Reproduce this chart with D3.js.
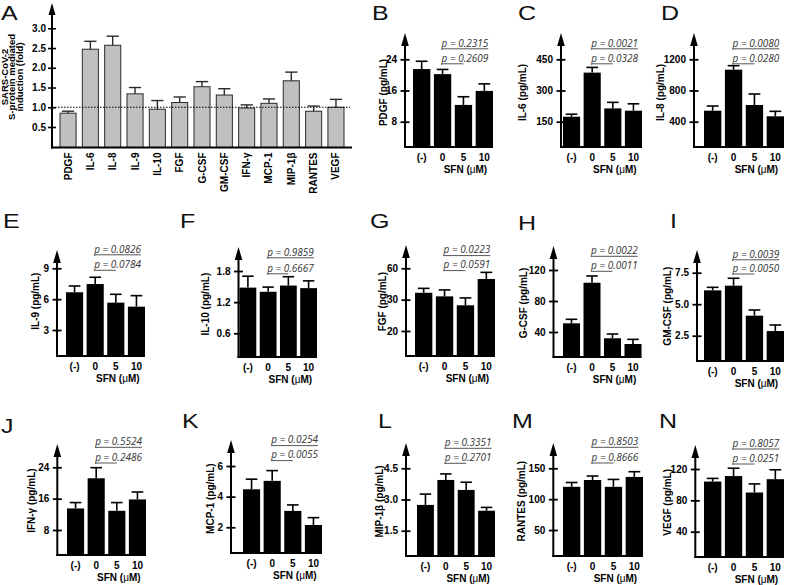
<!DOCTYPE html>
<html><head><meta charset="utf-8">
<script src="https://cdn.jsdelivr.net/npm/d3@7"></script>
<style>
body{margin:0;background:#fff;}
svg{display:block;}
</style></head><body>
<svg id="chart" width="787" height="585"></svg>
<script>
// ---------- Panel A data ----------
const foldCategories = ["PDGF","IL-6","IL-8","IL-9","IL-10","FGF","G-CSF","GM-CSF","IFN-γ","MCP-1","MIP-1β","RANTES","VEGF"];
const foldMeans = [0.85,2.47,2.57,1.34,0.95,1.12,1.52,1.31,0.98,1.10,1.67,0.90,1.00];
const foldUpper = [0.90,2.67,2.80,1.50,1.17,1.26,1.65,1.47,1.06,1.21,1.89,1.03,1.20];
const foldTicks = [0.5,1.0,1.5,2.0,2.5,3.0];
const foldReference = 1.0;
const foldAxisTitle = ["SARS-CoV-2","S-protein mediated","induction (fold)"];

// ---------- Panels B–N data ----------
const sfnGroups = ["(-)","0","5","10"];
const sfnTitle = "SFN";
const panelIds = ["B","C","D","E","F","G","H","I","J","K","L","M","N"];
const panelAnalytes = ["PDGF","IL-6","IL-8","IL-9","IL-10","FGF","G-CSF","GM-CSF","IFN-γ","MCP-1","MIP-1β","RANTES","VEGF"];
const panelTicks = [[8,16,24],[150,300,450],[400,800,1200],[3,6,9],[0.6,1.2,1.8],[20,40,60],[40,80,120],[2.5,5.0,7.5],[8,16,24],[2,4,6],[1.5,3.0,4.5],[50,100,150],[40,80,120]];
const panelTickLabels = [["8","16","24"],["150","300","450"],["400","800","1200"],["3","6","9"],["0.6","1.2","1.8"],["20","30","60"],["40","80","120"],["2.5","5.0","7.5"],["8","16","24"],["2","4","6"],["1.5","3.0","4.5"],["50","100","150"],["40","80","120"]];
const panelMeans = [
  [21.5,20.2,12.3,15.9],
  [174,386,214,203],
  [541,1067,614,469],
  [6.67,7.47,5.66,5.27],
  [1.48,1.40,1.52,1.47],
  [44.4,42.1,36.4,53.2],
  [51.2,103.6,31.9,24.5],
  [6.10,6.47,4.09,2.87],
  [13.5,21.2,12.9,15.8],
  [4.48,5.03,3.07,2.15],
  [2.74,3.94,3.46,2.46],
  [120,131,120,136],
  [104,111,90,107]
];
const panelUpper = [
  [23.5,21.4,14.4,17.7],
  [186,411,243,236],
  [601,1118,755,533],
  [7.28,8.13,6.47,6.34],
  [1.70,1.49,1.69,1.61],
  [47.2,46.2,41.1,57.4],
  [56.4,112.3,37.4,30.5],
  [6.34,7.06,4.54,3.35],
  [15.0,23.9,15.0,17.7],
  [5.14,5.70,3.46,2.63],
  [3.26,4.23,3.83,2.62],
  [127,137.5,132,144.5],
  [108,121,101,119]
];
const panelPTop = ["0.2315","0.0021","0.0080","0.0826","0.9859","0.0223","0.0022","0.0039","0.5524","0.0254","0.3351","0.8503","0.8057"];
const panelPBottom = ["0.2609","0.0328","0.0280","0.0784","0.6667","0.0591","0.0011","0.0050","0.2486","0.0055","0.2701","0.8666","0.0251"];

// ---------- Layout (positions only) ----------
const panelLayout = [
  {lx:372,ly:19.5,ax:405,  ay:147, tt:59.3, tb:121.7, ar:33,  b0:413,  b1:493,  lab:383,   p1:46.5,  p2:61.5},
  {lx:518,ly:19.5,ax:561,  ay:147, tt:59.3, tb:121.7, ar:33,  b0:563,  b1:642,  lab:522.5, p1:46.5,  p2:61.5},
  {lx:661,ly:19.5,ax:694,  ay:147, tt:59.3, tb:121.7, ar:33,  b0:704,  b1:784,  lab:660,   p1:46.5,  p2:61.5},
  {lx:3,  ly:228,ax:57,   ay:356, tt:268.3,tb:330,   ar:250, b0:66,   b1:145,  lab:35,    p1:252.5, p2:268},
  {lx:180,ly:228,ax:238.5,ay:357, tt:271,  tb:333.3, ar:247, b0:239.5,b1:317,  lab:205,   p1:255.5, p2:271.5},
  {lx:370,ly:228,ax:406,  ay:356, tt:268.3,tb:331,   ar:245, b0:415,  b1:495,  lab:382.7, p1:253.3, p2:268.3},
  {lx:518,ly:230,ax:553.5,ay:357, tt:270,  tb:332,   ar:246, b0:563,  b1:641.5,lab:523.3, p1:254,   p2:269},
  {lx:670,ly:228,ax:697,  ay:361, tt:272.7,tb:335.7, ar:250, b0:704,  b1:784,  lab:667,   p1:257.5, p2:271.7},
  {lx:1,  ly:433,ax:57.3, ay:555, tt:467.3,tb:530,   ar:444, b0:67,   b1:146,  lab:31.7,  p1:445,   p2:460.7},
  {lx:182,ly:428,ax:231,  ay:553, tt:466,  tb:527.3, ar:440, b0:243,  b1:322,  lab:210,   p1:443.3, p2:458.3},
  {lx:378,ly:428,ax:406,  ay:556, tt:468.3,tb:530.7, ar:443, b0:417,  b1:495,  lab:379,   p1:446,   p2:461},
  {lx:512,ly:428,ax:553.3,ay:556, tt:468.3,tb:530,   ar:443, b0:563,  b1:643,  lab:521.7, p1:445,   p2:460.7},
  {lx:659,ly:428,ax:695.3,ay:557, tt:469,  tb:531.7, ar:445, b0:704,  b1:784,  lab:667,   p1:446.7, p2:461.7}
];
const layoutA = {lx:1, ly:20, ax:52, ay:147.5, t0:127, t1:28.3, ar:3, b0:60, b1:344, titleY:77, titleX:[7.5,15.2,22.8]};

const FONT = "'Liberation Sans', Arial, Helvetica, sans-serif";
const LETTER_FONT = "'Liberation Sans', Arial, sans-serif";
const P_FONT = "'Open Sans', 'Noto Sans', sans-serif";
const svg = d3.select("#chart");

function panelLetter(txt, x, y) {
  svg.append("text").attr("transform", `translate(${x},${y}) scale(1.25,1)`)
    .attr("font-family", LETTER_FONT).attr("font-size", 20).attr("fill", "#111").text(txt);
}
function arrowAxis(g, x, yTop, yBottom, hw, hh) {
  g.append("line").attr("x1", x).attr("x2", x).attr("y1", yBottom + 1).attr("y2", yTop + hh - 1)
    .attr("stroke", "#000").attr("stroke-width", 2);
  g.append("path").attr("d", `M${x},${yTop} L${x - hw},${yTop + hh} L${x + hw},${yTop + hh} Z`).attr("fill", "#000");
}

// ================= Panel A =================
(function () {
  const L = layoutA;
  const g = svg.append("g");
  const y = d3.scaleLinear().domain([0.5, 3.0]).range([L.t0, L.t1]);
  const x = d3.scaleBand().domain(foldCategories).range([L.b0, L.b1]).paddingInner(0.28);
  const bw = x.bandwidth();

  g.selectAll("rect.bar").data(foldMeans).join("rect")
    .attr("x", (d, i) => x(foldCategories[i]))
    .attr("y", d => y(d))
    .attr("width", bw)
    .attr("height", d => L.ay - y(d))
    .attr("fill", "#c0c0c0").attr("stroke", "#2a2a2a").attr("stroke-width", 1);

  const eg = g.append("g").attr("stroke", "#2a2a2a").attr("stroke-width", 1.4);
  foldCategories.forEach((c, i) => {
    const cx = x(c) + bw / 2;
    eg.append("line").attr("x1", cx).attr("x2", cx).attr("y1", y(foldMeans[i])).attr("y2", y(foldUpper[i]));
    eg.append("line").attr("x1", cx - bw * 0.38).attr("x2", cx + bw * 0.38).attr("y1", y(foldUpper[i])).attr("y2", y(foldUpper[i]));
  });

  g.append("line").attr("x1", L.ax).attr("x2", L.b1 + 6)
    .attr("y1", y(foldReference)).attr("y2", y(foldReference))
    .attr("stroke", "#000").attr("stroke-width", 1.2).attr("stroke-dasharray", "1.5,1.5");

  arrowAxis(g, L.ax, L.ar, L.ay, 3.5, 12);
  g.append("line").attr("x1", L.ax - 1).attr("x2", L.b1 + 8).attr("y1", L.ay).attr("y2", L.ay)
    .attr("stroke", "#000").attr("stroke-width", 2);
  const ax = d3.axisLeft(y).tickValues(foldTicks).tickFormat(d3.format(".1f")).tickSize(4).tickPadding(2);
  const axG = g.append("g").attr("transform", `translate(${L.ax},0)`).call(ax)
    .attr("font-family", FONT).attr("font-size", 10).attr("font-weight", "bold");
  axG.select(".domain").remove();
  axG.selectAll(".tick line").attr("x1", 4).attr("stroke", "#000").attr("stroke-width", 1.6);
  axG.selectAll(".tick text").attr("fill", "#000");

  g.selectAll("text.cat").data(foldCategories).join("text")
    .attr("transform", d => `translate(${x(d) + bw / 2 + 3.5},${L.ay + 5}) rotate(-90)`)
    .attr("text-anchor", "end").attr("font-family", FONT).attr("font-size", 10).attr("font-weight", "bold")
    .text(d => d);

  foldAxisTitle.forEach((t, i) => {
    g.append("text").attr("transform", `translate(${L.titleX[i]},${L.titleY}) rotate(-90)`)
      .attr("text-anchor", "middle").attr("font-family", FONT).attr("font-size", 9.5).attr("font-weight", "bold")
      .text(t);
  });
  panelLetter("A", L.lx, L.ly);
})();

// ================= Panels B–N =================
panelIds.forEach((id, i) => {
  const L = panelLayout[i];
  const g = svg.append("g");
  const y = d3.scaleLinear().domain([panelTicks[i][0], panelTicks[i][2]]).range([L.tb, L.tt]);
  const x = d3.scaleBand().domain(sfnGroups).range([L.b0, L.b1]).paddingInner(0.17);
  const bw = x.bandwidth();
  const cx = k => x(k) + bw / 2;

  g.selectAll("rect.bar").data(panelMeans[i]).join("rect")
    .attr("x", (d, j) => x(sfnGroups[j]))
    .attr("y", d => y(d))
    .attr("width", bw)
    .attr("height", d => L.ay - y(d))
    .attr("fill", "#000");

  const eg = g.append("g").attr("stroke", "#000").attr("stroke-width", 1.6);
  sfnGroups.forEach((s, j) => {
    eg.append("line").attr("x1", cx(s)).attr("x2", cx(s)).attr("y1", y(panelMeans[i][j])).attr("y2", y(panelUpper[i][j]));
    eg.append("line").attr("x1", cx(s) - bw * 0.34).attr("x2", cx(s) + bw * 0.34)
      .attr("y1", y(panelUpper[i][j])).attr("y2", y(panelUpper[i][j]));
  });

  arrowAxis(g, L.ax, L.ar, L.ay, 3.8, 13);
  g.append("line").attr("x1", L.ax - 1).attr("x2", L.b1).attr("y1", L.ay).attr("y2", L.ay)
    .attr("stroke", "#000").attr("stroke-width", 2);

  const ax = d3.axisLeft(y).tickValues(panelTicks[i])
    .tickFormat((d, j) => panelTickLabels[i][j]).tickSize(4.5).tickPadding(3.5);
  const axG = g.append("g").attr("transform", `translate(${L.ax},0)`).call(ax)
    .attr("font-family", FONT).attr("font-size", 10).attr("font-weight", "bold");
  axG.select(".domain").remove();
  axG.selectAll(".tick line").attr("x1", 4.5).attr("stroke", "#000").attr("stroke-width", 1.8);
  axG.selectAll(".tick text").attr("fill", "#000");

  g.selectAll("text.grp").data(sfnGroups).join("text")
    .attr("x", d => cx(d)).attr("y", L.ay + 13.5)
    .attr("text-anchor", "middle").attr("font-family", FONT).attr("font-size", 10).attr("font-weight", "bold")
    .text(d => d);
  const st = g.append("text").attr("x", cx("5") + 2).attr("y", L.ay + 25.5)
    .attr("text-anchor", "middle").attr("font-family", FONT).attr("font-size", 10).attr("font-weight", "bold");
  st.append("tspan").text(sfnTitle + " (");
  st.append("tspan").attr("font-weight", "normal").text("μ");
  st.append("tspan").text("M)");

  g.append("text").attr("transform", `translate(${L.lab + 3.5},${(L.tt + L.tb) / 2 + 2}) rotate(-90)`)
    .attr("text-anchor", "middle").attr("font-family", FONT).attr("font-size", 10).attr("font-weight", "bold")
    .text(panelAnalytes[i] + " (pg/mL)");

  const px = cx("0") - 1;
  [[panelPTop[i], L.p1, null], [panelPBottom[i], L.p2, cx("5")]].forEach(([pv, py, endX]) => {
    const t = g.append("text").attr("x", px).attr("y", py)
      .attr("font-family", P_FONT).attr("font-style", "italic").attr("font-size", 10).attr("fill", "#333");
    t.append("tspan").text("p");
    t.append("tspan").text(" = " + pv);
    const w = t.node().getComputedTextLength();
    g.append("line").attr("x1", px).attr("x2", endX === null ? px + w : endX)
      .attr("y1", py + 2.3).attr("y2", py + 2.3).attr("stroke", "#555").attr("stroke-width", 1);
  });

  panelLetter(id, L.lx, L.ly);
});
</script>
</body></html>
